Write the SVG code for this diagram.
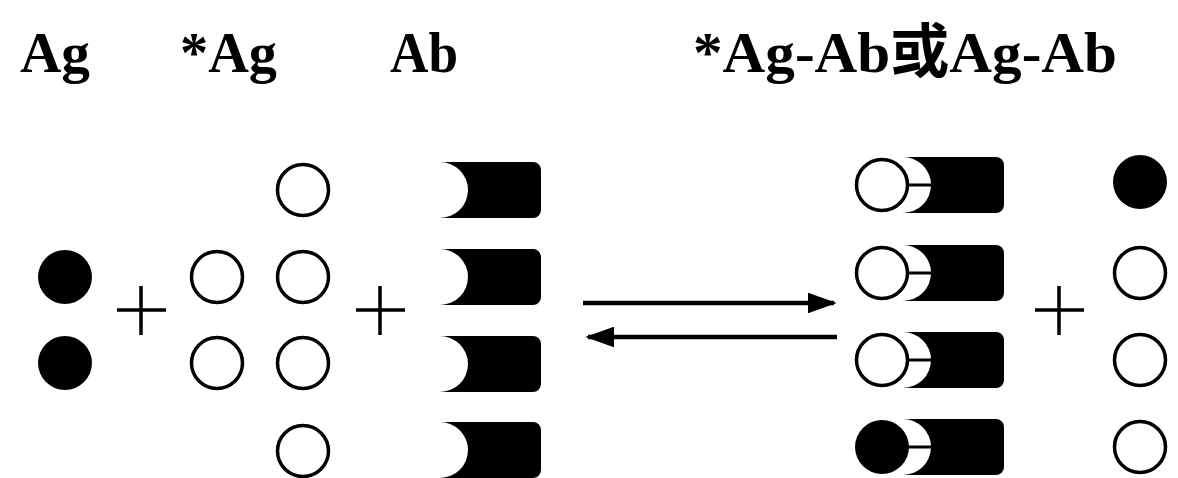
<svg xmlns="http://www.w3.org/2000/svg" xmlns:xlink="http://www.w3.org/1999/xlink" width="1178" height="478" viewBox="0 0 1178 478">
<style>
.lbl{font-family:"Liberation Serif","Noto Sans CJK SC",serif;font-weight:bold;font-size:58px;fill:#000}
.open{fill:#fff;stroke:#000;stroke-width:3.5}
.fill{fill:#000}
.plus{stroke:#000;stroke-width:3.5;fill:none}
.arr{stroke:#000;stroke-width:4.5;fill:none}
.bond{stroke:#000;stroke-width:3}
</style>
<defs>
<path id="ab" d="M0,-28 H93 A8,8 0 0 1 101,-20 V20 A8,8 0 0 1 93,28 H0 A28,28 0 0 0 0,-28 Z" fill="#000"/>
<marker id="ah" markerWidth="6.4" markerHeight="4.6" refX="5.8" refY="2.3" orient="auto" markerUnits="strokeWidth">
<path d="M0,0 L6.4,2.3 L0,4.6 Z" fill="#000"/>
</marker>
</defs>
<rect width="1178" height="478" fill="#fff"/>
<g id="labels">
<text class="lbl" x="20" y="72" textLength="70" lengthAdjust="spacingAndGlyphs">Ag</text>
<text class="lbl" x="180" y="72" textLength="97" lengthAdjust="spacingAndGlyphs">*Ag</text>
<text class="lbl" x="390" y="72" textLength="68" lengthAdjust="spacingAndGlyphs">Ab</text>
<text class="lbl" x="693" y="72" textLength="424" lengthAdjust="spacingAndGlyphs">*Ag-Ab或Ag-Ab</text>
</g>
<g id="ag">
<circle class="fill" cx="65" cy="277" r="27"/>
<circle class="fill" cx="65" cy="363" r="27"/>
</g>
<g id="plus1"><path class="plus" d="M117,310 H166 M141,286 V335"/></g>
<g id="ag-labeled">
<circle class="open" cx="217" cy="277" r="25.5"/>
<circle class="open" cx="217" cy="363" r="25.5"/>
<circle class="open" cx="303" cy="190" r="25.5"/>
<circle class="open" cx="303" cy="277" r="25.5"/>
<circle class="open" cx="303" cy="363" r="25.5"/>
<circle class="open" cx="303" cy="451" r="25.5"/>
</g>
<g id="plus2"><path class="plus" d="M356,310 H405 M380,286 V335"/></g>
<g id="ab-col">
<use xlink:href="#ab" href="#ab" transform="translate(440,190)"/>
<use xlink:href="#ab" href="#ab" transform="translate(440,277)"/>
<use xlink:href="#ab" href="#ab" transform="translate(440,364)"/>
<use xlink:href="#ab" href="#ab" transform="translate(440,450)"/>
</g>
<g id="connectors">
<line class="arr" x1="583" y1="303" x2="834" y2="303" marker-end="url(#ah)"/>
<line class="arr" x1="837" y1="337" x2="588" y2="337" marker-end="url(#ah)"/>
</g>
<g id="complexes">
<g id="complex1">
<use xlink:href="#ab" href="#ab" transform="translate(903,185)"/>
<line class="bond" x1="905" y1="185" x2="932" y2="185"/>
<circle class="open" cx="882" cy="185" r="25.5"/>
</g>
<g id="complex2">
<use xlink:href="#ab" href="#ab" transform="translate(903,273)"/>
<line class="bond" x1="905" y1="273" x2="932" y2="273"/>
<circle class="open" cx="882" cy="273" r="25.5"/>
</g>
<g id="complex3">
<use xlink:href="#ab" href="#ab" transform="translate(903,360)"/>
<line class="bond" x1="905" y1="360" x2="932" y2="360"/>
<circle class="open" cx="882" cy="360" r="25.5"/>
</g>
<g id="complex4">
<use xlink:href="#ab" href="#ab" transform="translate(903,447)"/>
<line class="bond" x1="905" y1="447" x2="932" y2="447"/>
<circle class="fill" cx="882" cy="447" r="27"/>
</g>
</g>
<g id="plus3"><path class="plus" d="M1035,310 H1084 M1059,286 V335"/></g>
<g id="free">
<circle class="fill" cx="1140" cy="182" r="27"/>
<circle class="open" cx="1140" cy="273" r="25.5"/>
<circle class="open" cx="1140" cy="360" r="25.5"/>
<circle class="open" cx="1140" cy="447" r="25.5"/>
</g>
</svg>
